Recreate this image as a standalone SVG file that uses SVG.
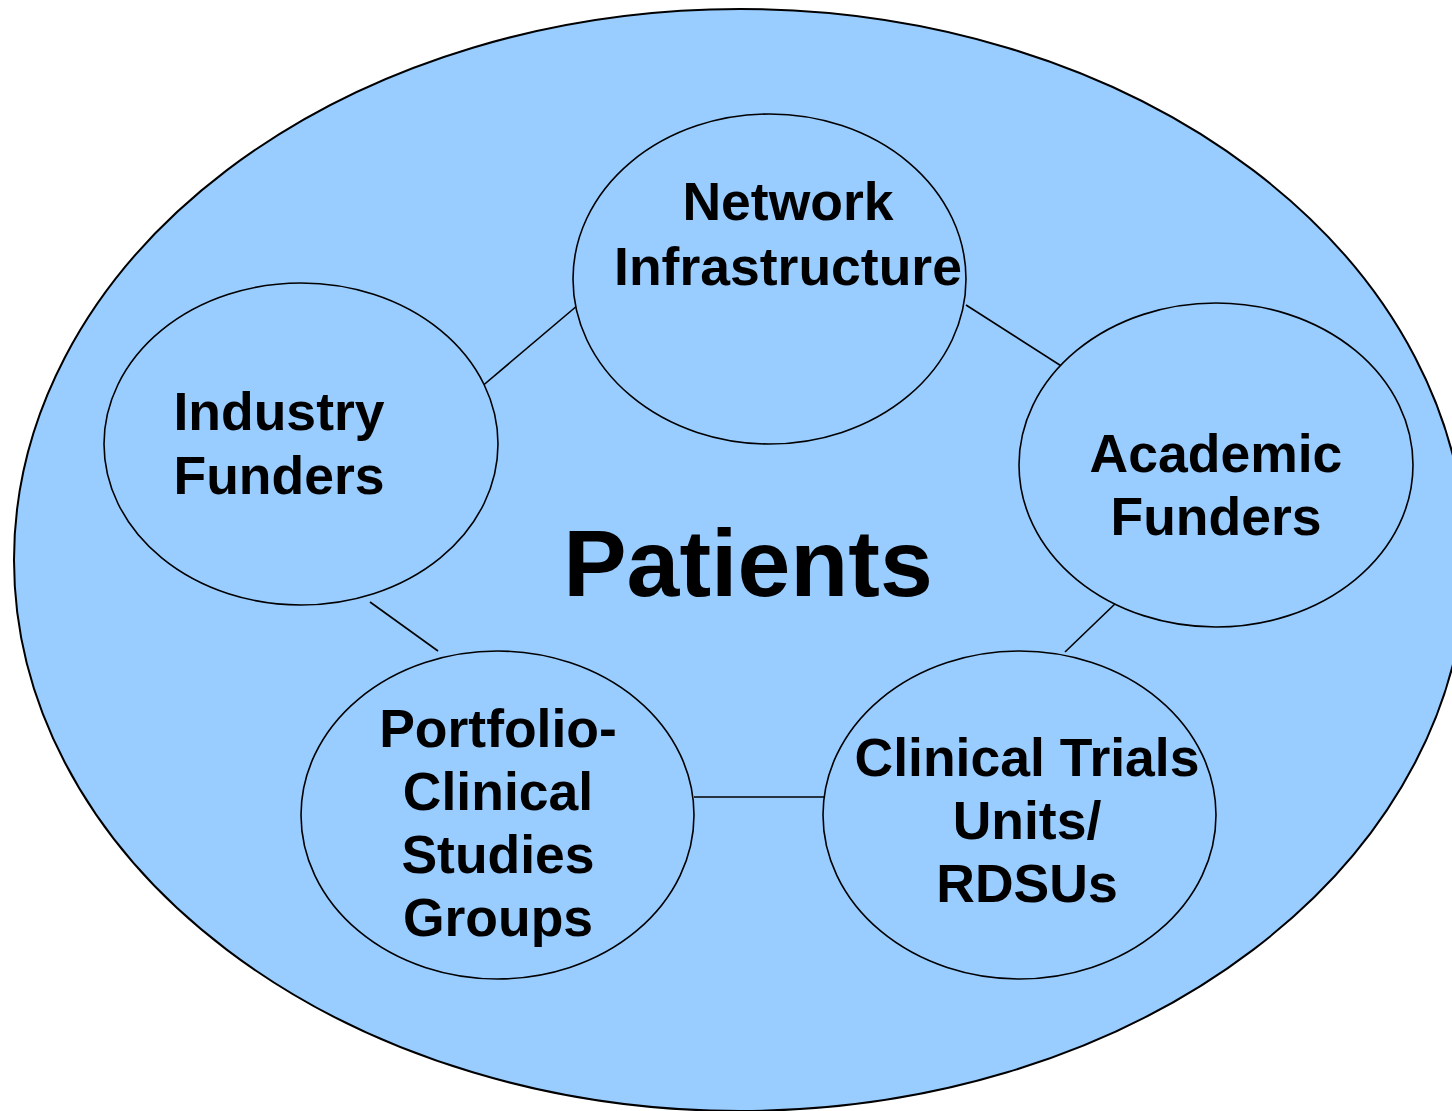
<svg xmlns="http://www.w3.org/2000/svg" width="1452" height="1111" viewBox="0 0 1452 1111">
<style>
.bg{fill:#99CCFF;stroke:#000;stroke-width:2}
.n{fill:#99CCFF;stroke:#000;stroke-width:1.6}
.c{stroke:#000;stroke-width:1.6;fill:none}
text{font-family:"Liberation Sans",Arial,sans-serif;font-weight:bold;fill:#000;text-anchor:middle}
.t{font-size:53.5px}
.p{font-size:95px}
</style>
<rect width="1452" height="1111" fill="#fff"/>
<g id="patients">
<ellipse class="bg" cx="740" cy="560" rx="726" ry="551"/>
<text class="p" x="748" y="596">Patients</text>
</g>
<g id="connectors">
<line class="c" x1="480" y1="388" x2="578" y2="305"/>
<line class="c" x1="966" y1="305" x2="1066" y2="369"/>
<line class="c" x1="1118" y1="601" x2="1065" y2="652"/>
<line class="c" x1="694" y1="797" x2="824" y2="797"/>
<line class="c" x1="370" y1="602" x2="438" y2="651"/>
</g>
<g id="network">
<ellipse class="n" cx="769.5" cy="279" rx="196.5" ry="165"/>
<text class="t" x="788" y="220">Network</text>
<text class="t" x="788" y="285">Infrastructure</text>
</g>
<g id="industry">
<ellipse class="n" cx="301" cy="444" rx="197" ry="161"/>
<text class="t" x="279" y="430">Industry</text>
<text class="t" x="279" y="494">Funders</text>
</g>
<g id="academic">
<ellipse class="n" cx="1216" cy="465" rx="197" ry="162"/>
<text class="t" x="1216" y="472">Academic</text>
<text class="t" x="1216" y="535">Funders</text>
</g>
<g id="portfolio">
<ellipse class="n" cx="497.5" cy="815" rx="196.5" ry="164"/>
<text class="t" x="498" y="747">Portfolio-</text>
<text class="t" x="498" y="810">Clinical</text>
<text class="t" x="498" y="873">Studies</text>
<text class="t" x="498" y="936">Groups</text>
</g>
<g id="ctu">
<ellipse class="n" cx="1019.5" cy="815" rx="196.5" ry="164"/>
<text class="t" x="1027" y="776">Clinical Trials</text>
<text class="t" x="1027" y="839">Units/</text>
<text class="t" x="1027" y="902">RDSUs</text>
</g>
</svg>
